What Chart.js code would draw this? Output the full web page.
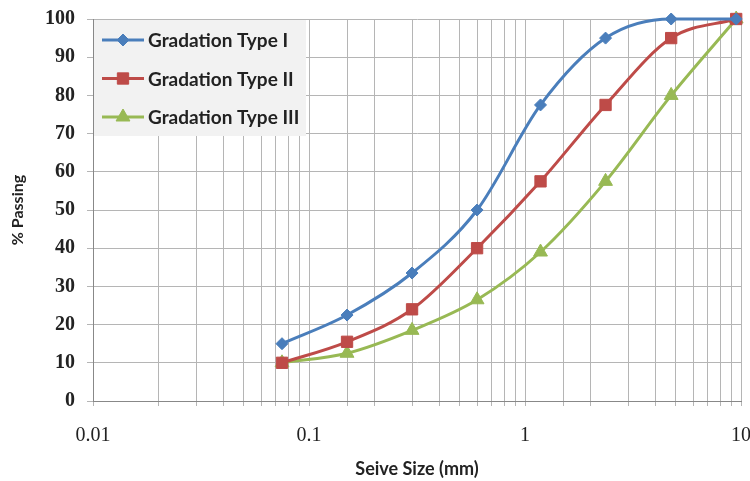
<!DOCTYPE html>
<html>
<head>
<meta charset="utf-8">
<script src="https://cdn.jsdelivr.net/npm/chart.js@4/dist/chart.umd.min.js"></script>
<style>
  html, body { margin: 0; padding: 0; background: #fff; }
  #wrap { width: 750px; height: 481px; }
</style>
</head>
<body>
<div id="wrap"><canvas id="chart" width="750" height="481"></canvas></div>
<script>
'use strict';

// sieve sizes in mm
var sieveSizes = [0.075, 0.15, 0.3, 0.6, 1.18, 2.36, 4.75, 9.5];

var seriesNames = ['Gradation Type I', 'Gradation Type II', 'Gradation Type III'];
var typeOne   = [15, 22.5, 33.5, 50, 77.5, 95, 100, 100];
var typeTwo   = [10, 15.5, 24, 40, 57.5, 77.5, 95, 100];
var typeThree = [10, 12.5, 18.5, 26.5, 39, 57.5, 80, 100];

var xTickLabels = [0.01, 0.1, 1, 10];
var yTicks = [0, 10, 20, 30, 40, 50, 60, 70, 80, 90, 100];

var colors = ['#4a7ebb', '#be4b48', '#98b954'];
var markers = ['rectRot', 'rect', 'triangle'];
var markerSize = [6, 8, 8];

function toPoints(vals) {
  var pts = [];
  for (var i = 0; i < sieveSizes.length; i++) {
    pts.push({ x: sieveSizes[i], y: vals[i] });
  }
  return pts;
}

var allVals = [typeOne, typeTwo, typeThree];
var datasets = [];
for (var s = 0; s < allVals.length; s++) {
  datasets.push({
    label: seriesNames[s],
    data: toPoints(allVals[s]),
    borderColor: colors[s],
    backgroundColor: colors[s],
    borderWidth: 3,
    pointStyle: markers[s],
    pointRadius: markerSize[s],
    pointHoverRadius: markerSize[s],
    pointBorderWidth: 1,
    cubicInterpolationMode: 'monotone',
    clip: false
  });
}

var sansFont = 'Lato, "Open Sans", sans-serif';
var numFont = '"Liberation Serif", serif';

// legend drawn inside the plot, top-left, over the grid
var insideLegend = {
  id: 'insideLegend',
  beforeDatasetsDraw: function (chart) {
    var ctx = chart.ctx;
    var area = chart.chartArea;
    var x0 = area.left + 1, y0 = area.top + 1;
    ctx.save();
    ctx.fillStyle = '#f2f2f2';
    ctx.fillRect(x0, y0, 212, 116);
    ctx.font = 'bold 19px ' + sansFont;
    ctx.textBaseline = 'middle';
    for (var i = 0; i < seriesNames.length; i++) {
      var y = y0 + 20 + i * 38.5;
      ctx.strokeStyle = colors[i];
      ctx.lineWidth = 3;
      ctx.beginPath();
      ctx.moveTo(x0 + 8, y);
      ctx.lineTo(x0 + 50, y);
      ctx.stroke();
      ctx.fillStyle = colors[i];
      ctx.strokeStyle = colors[i];
      ctx.lineWidth = 1;
      Chart.helpers.drawPoint(ctx, {
        pointStyle: markers[i],
        radius: markerSize[i],
        borderWidth: 1
      }, x0 + 29, y);
      ctx.fillStyle = '#222';
      ctx.fillText(seriesNames[i], x0 + 54, y + 1);
    }
    ctx.restore();
  }
};

var ctx = document.getElementById('chart').getContext('2d');
var chart = new Chart(ctx, {
  type: 'line',
  data: { datasets: datasets },
  plugins: [insideLegend],
  options: {
    responsive: false,
    animation: false,
    layout: { padding: 0 },
    plugins: {
      legend: { display: false },
      tooltip: { enabled: false }
    },
    scales: {
      x: {
        type: 'logarithmic',
        min: 0.01,
        max: 10,
        border: { color: '#888', width: 1 },
        grid: { color: '#b5b5b5', lineWidth: 1, tickLength: 5 },
        ticks: {
          autoSkip: false,
          maxRotation: 0,
          color: '#222',
          font: { family: numFont, size: 20 },
          padding: 18,
          callback: function (v) {
            for (var i = 0; i < xTickLabels.length; i++) {
              if (Math.abs(v - xTickLabels[i]) < 1e-9) return String(xTickLabels[i]);
            }
            return '';
          }
        },
        title: {
          display: true,
          text: 'Seive Size (mm)',
          color: '#222',
          font: { family: sansFont, size: 18, weight: 'bold' },
          padding: { top: 8, bottom: 1 }
        },
        afterFit: function (scale) {
          scale.height = 80;
          scale.paddingLeft = 0;
          scale.paddingRight = 8;
        }
      },
      y: {
        min: yTicks[0],
        max: yTicks[yTicks.length - 1],
        border: { color: '#888', width: 1 },
        grid: { color: '#b5b5b5', lineWidth: 1, tickLength: 6 },
        afterBuildTicks: function (axis) {
          axis.ticks = yTicks.map(function (v) { return { value: v }; });
        },
        ticks: {
          color: '#222',
          font: { family: numFont, size: 20, weight: 'bold' },
          padding: 12
        },
        title: {
          display: true,
          text: '% Passing',
          color: '#222',
          font: { family: sansFont, size: 16, weight: 'bold' },
          padding: { top: 8, bottom: 6 }
        },
        afterFit: function (scale) {
          scale.width = 93;
          scale.paddingTop = 19;
          scale.paddingBottom = 0;
        }
      }
    }
  }
});
</script>
</body>
</html>
